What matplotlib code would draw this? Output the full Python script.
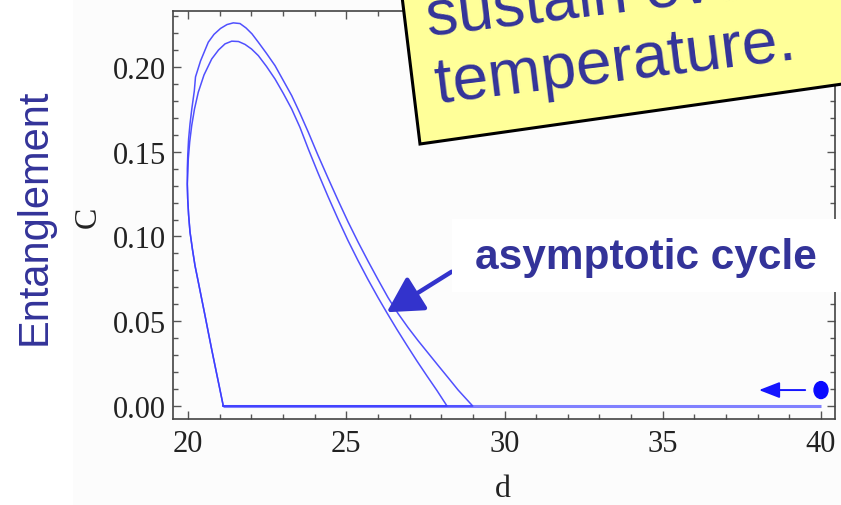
import matplotlib
matplotlib.use('Agg')
import matplotlib.pyplot as plt
from matplotlib.patches import Rectangle, Polygon, Ellipse
from matplotlib.ticker import MultipleLocator

# left branch shared by both loops (d, C)
shared_d = [21.115, 20.979, 20.853, 20.746, 20.641, 20.537, 20.433, 20.325, 20.221,
            20.139, 20.063, 20.019, 19.991, 19.978]
shared_c = [0.0, 0.0124, 0.0238, 0.0336, 0.0435, 0.0534, 0.0631, 0.0732, 0.0828,
            0.0926, 0.1027, 0.1127, 0.1221, 0.1310]

# outer loop, top and right side
outer_d = [19.978, 19.994, 20.019, 20.063, 20.120, 20.199, 20.237, 20.395, 20.641,
           20.821, 21.027, 21.232, 21.431, 21.643, 21.833, 22.022, 22.221, 22.480,
           22.749, 23.011, 23.276, 23.539, 23.801, 24.107, 24.423, 24.739, 25.055,
           25.371, 25.687, 26.003, 26.319, 26.635, 26.951, 27.267, 27.583, 27.899,
           28.215, 28.531, 28.995]
outer_c = [0.1398, 0.1487, 0.1575, 0.1664, 0.1752, 0.1858, 0.1941, 0.2035, 0.2146,
           0.2192, 0.2227, 0.2250, 0.2260, 0.2256, 0.2230, 0.2195, 0.2146, 0.2080,
           0.2008, 0.1920, 0.1831, 0.1726, 0.1615, 0.1479, 0.1345, 0.1214, 0.1087,
           0.0968, 0.0855, 0.0746, 0.0640, 0.0546, 0.0463, 0.0386, 0.0313, 0.0240,
           0.0168, 0.0095, 0.0]

# inner loop (the asymptotic cycle), top and right side
inner_d = [19.997, 20.009, 20.054, 20.117, 20.205, 20.325, 20.506, 20.749, 20.964,
           21.169, 21.381, 21.596, 21.801, 22.006, 22.221, 22.480, 22.749, 23.011,
           23.276, 23.539, 23.801, 24.107, 24.423, 24.739, 25.055, 25.371, 25.687,
           26.003, 26.287, 26.603, 26.919, 27.235, 27.551, 27.867, 28.183]
inner_c = [0.1386, 0.1457, 0.1558, 0.1654, 0.1752, 0.1851, 0.1953, 0.2047, 0.2100,
           0.2136, 0.2152, 0.2150, 0.2133, 0.2106, 0.2067, 0.2003, 0.1929, 0.1844,
           0.1752, 0.1643, 0.1516, 0.1375, 0.1236, 0.1103, 0.0976, 0.0858, 0.0746,
           0.0640, 0.0549, 0.0451, 0.0357, 0.0265, 0.0177, 0.0091, 0.0]

# approach along C = 0 and the starting point
tail_d = [21.115, 40.0]
tail_c = [0.0, 0.0]
start_d, start_c = 40.0, 0.0094

xticks = [20, 25, 30, 35, 40]
yticks = [0.00, 0.05, 0.10, 0.15, 0.20]

W, H = 841, 506
BLUE = '#3d3dff'
NAVY = '#333399'


def fx(px):
    return px / W


def fy(py):
    return 1 - py / H


fig = plt.figure(figsize=(W / 100, H / 100), dpi=100)
fig.patch.set_facecolor('white')

# light grey background of the pasted plot
fig.patches.append(Rectangle((fx(73), 0), 1 - fx(73), 1, transform=fig.transFigure,
                             facecolor='#fcfcfc', edgecolor='none', zorder=-5))

ax = fig.add_axes([fx(173), fy(420), 662 / W, 408 / H])
ax.set_facecolor('none')

ax.plot(tail_d, tail_c, color='#8080ff', lw=2.2, solid_capstyle='butt')
for top_d, top_c in [(outer_d, outer_c), (inner_d, inner_c)]:
    loop_d = shared_d + top_d + [shared_d[0]]
    loop_c = shared_c + top_c + [shared_c[0]]
    ax.plot(loop_d, loop_c, color=BLUE, lw=1.1, alpha=0.9)

ax.set_xlim(19.526, 40.442)
ax.set_ylim(-0.00767, 0.2330)
ax.set_xticks(xticks)
ax.set_yticks(yticks)
ax.set_yticklabels([f'{v:.2f}' for v in yticks])
ax.xaxis.set_minor_locator(MultipleLocator(1))
ax.yaxis.set_minor_locator(MultipleLocator(0.01))
ax.tick_params(which='both', direction='in', top=True, right=True, color='#555555', width=1)
ax.tick_params(which='major', length=6)
ax.tick_params(which='minor', length=3.5)
ax.tick_params(axis='y', pad=5)
ax.tick_params(axis='x', pad=7)
for lab in ax.get_xticklabels() + ax.get_yticklabels():
    lab.set_family('Liberation Serif')
    lab.set_fontsize(22)
    lab.set_color('#222222')
for sp in ax.spines.values():
    sp.set_color('#444444')
    sp.set_linewidth(1.2)

# start marker with arrow
ax.add_patch(Ellipse((start_d, start_c), 0.44, 0.010, color='#0a0aff', zorder=5))
ax.annotate('', xy=(38.04, start_c), xytext=(39.5, start_c),
            arrowprops=dict(arrowstyle='-|>,head_length=0.9,head_width=0.35',
                            color='#1515ff', lw=1.4, mutation_scale=14,
                            shrinkA=0, shrinkB=0))

# arrow pointing at the asymptotic cycle
ax.annotate('', xy=(26.28, 0.0553), xytext=(28.33, 0.0792),
            arrowprops=dict(arrowstyle='-|>,head_length=0.9,head_width=0.5',
                            color='#3333cc', lw=3.2, mutation_scale=24,
                            shrinkA=0, shrinkB=0), annotation_clip=False)

# axis labels
fig.text(fx(503), fy(490), 'd', family='Liberation Serif', fontsize=23,
         color='#222222', ha='center', va='center')
fig.text(fx(88), fy(217), 'C', family='Liberation Serif', fontsize=23,
         color='#222222', ha='center', va='center', rotation=90)
fig.text(fx(35), fy(217), 'Entanglement', family='Liberation Sans', fontsize=30,
         color=NAVY, ha='center', va='center', rotation=90)

# white label box
fig.patches.append(Rectangle((fx(452), fy(293)), 1 - fx(452), (293 - 220) / H,
                             transform=fig.transFigure, facecolor='white',
                             edgecolor='none', zorder=3))
fig.text(fx(475), fy(258), 'asymptotic cycle', family='Liberation Sans',
         fontweight='bold', fontsize=30.5, color=NAVY, ha='left', va='center', zorder=4)

# yellow callout
fig.patches.append(Polygon([(fx(395), fy(-60)), (fx(420), fy(145)), (fx(920), fy(74)),
                            (fx(920), fy(-60))], closed=True, transform=fig.transFigure,
                           facecolor='#ffff99', edgecolor='black', lw=2.2, zorder=5))
fig.text(fx(428), fy(36), 'sustain even at high', family='Liberation Sans', fontsize=46,
         color=NAVY, ha='left', va='baseline', rotation=7, rotation_mode='anchor', zorder=6)
fig.text(fx(437), fy(103), 'temperature.', family='Liberation Sans', fontsize=46,
         color=NAVY, ha='left', va='baseline', rotation=7, rotation_mode='anchor', zorder=6)

fig.savefig('out.png', dpi=100)
